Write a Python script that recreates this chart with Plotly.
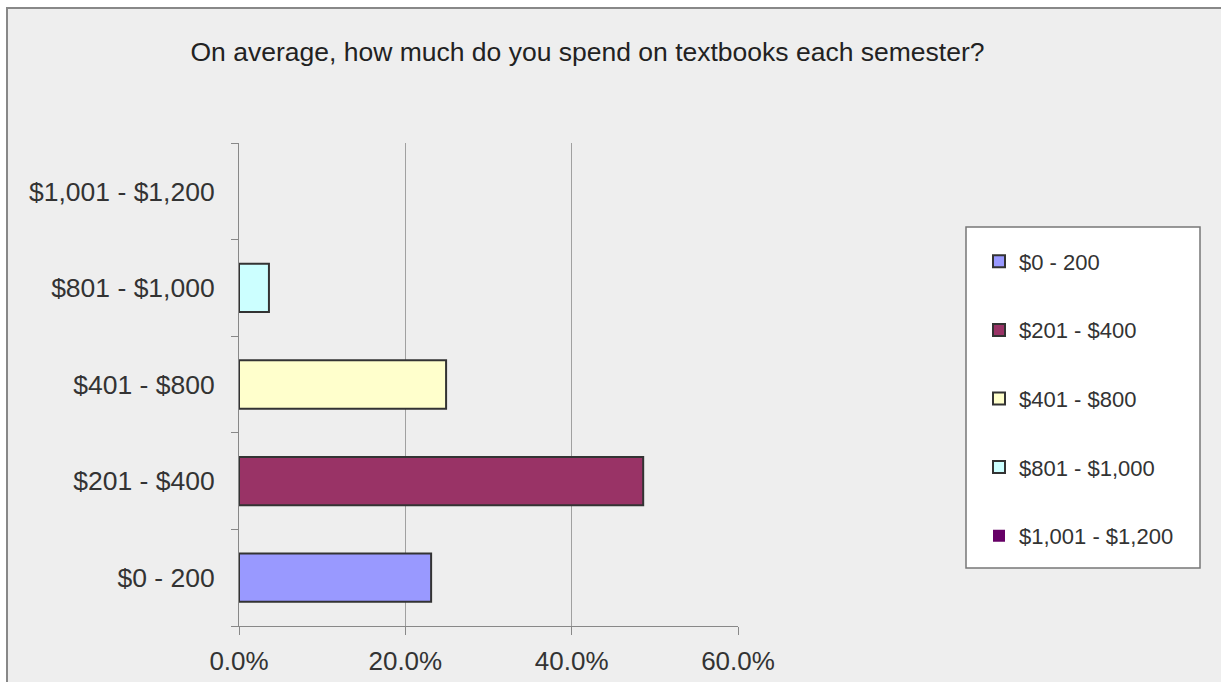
import plotly.graph_objects as go

# ---- data ----
categories = ["$0 - 200", "$201 - $400", "$401 - $800", "$801 - $1,000", "$1,001 - $1,200"]
shares = [0.231, 0.486, 0.249, 0.036, 0.0]
colors = ["#9999FF", "#993366", "#FFFFCC", "#CCFFFF", "#660066"]
x_ticks = [0.0, 0.2, 0.4, 0.6]
title_text = "On average, how much do you spend on textbooks each semester?"

W, H = 1221, 682
ML, MR, MT, MB = 239, 483, 143, 56
PW = W - ML - MR
PH = H - MT - MB


def px_x(p):
    return (p - ML) / PW


def px_y(p):
    return (H - MB - p) / PH


fig = go.Figure()
for i, (cat, val, col) in enumerate(zip(categories, shares, colors)):
    fig.add_trace(go.Bar(
        x=[val], y=[cat], name=cat, orientation="h",
        marker=dict(color=col, line=dict(color="#333333", width=2 if val > 0 else 0)),
        width=0.5, legendgroup=f"g{i}",
    ))

font_fam = "Liberation Sans, Arial, sans-serif"

fig.update_layout(
    width=W, height=H,
    margin=dict(l=ML, r=MR, t=MT, b=MB, pad=0, autoexpand=False),
    paper_bgcolor="white",
    plot_bgcolor="#EEEEEE",
    barmode="overlay",
    font=dict(family=font_fam, color="#333333"),
    title=dict(text=title_text, x=587.5 / W, xref="container", xanchor="center",
               y=1 - 52 / H, yref="container", yanchor="middle",
               font=dict(size=26.5, color="#222222", family=font_fam)),
    xaxis=dict(range=[0, 0.6], tickvals=x_ticks, tickformat=".1%", automargin=False,
               showgrid=True, gridcolor="#A0A0A0", gridwidth=1,
               zeroline=False, showline=True, linecolor="#888888", linewidth=1,
               ticks="outside", ticklen=8, tickcolor="#888888",
               tickfont=dict(size=26, color="#333333"), ticklabelstandoff=4),
    yaxis=dict(type="category", categoryorder="array", categoryarray=categories,
               range=[-0.5, 4.5], showgrid=False, zeroline=False, automargin=False,
               showline=True, linecolor="#888888", linewidth=1,
               ticks="outside", ticklen=7, tickcolor="#888888", tickson="boundaries",
               tickfont=dict(size=26.5, color="#333333"), ticklabelstandoff=18),
    legend=dict(x=px_x(979), y=px_y(240.5), xanchor="left", yanchor="top",
                bgcolor="rgba(0,0,0,0)", borderwidth=0,
                traceorder="grouped", tracegroupgap=37,
                font=dict(size=22, color="#333333", family=font_fam)),
    shapes=[
        dict(type="rect", xref="paper", yref="paper", layer="below",
             x0=px_x(7), x1=px_x(1240), y0=px_y(720), y1=px_y(8),
             fillcolor="#EEEEEE", line=dict(color="#888888", width=2)),
        dict(type="rect", xref="paper", yref="paper", layer="below",
             x0=px_x(966), x1=px_x(1200), y0=px_y(568), y1=px_y(227),
             fillcolor="white", line=dict(color="#777777", width=1.5)),
    ],
)

fig.write_html("out.html", config={"displayModeBar": False},
               post_script="document.body.style.margin='0';")
